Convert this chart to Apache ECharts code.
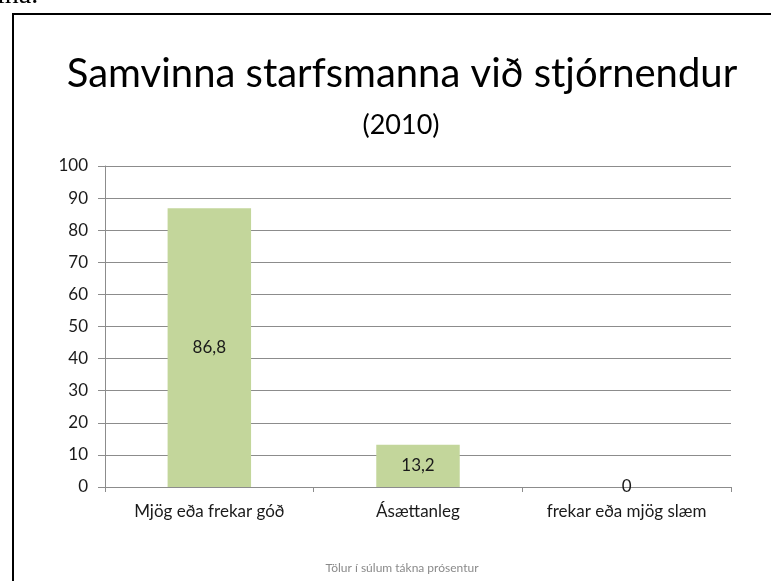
<!DOCTYPE html>
<html>
<head>
<meta charset="utf-8">
<script src="https://cdn.jsdelivr.net/npm/echarts@6/dist/echarts.min.js"></script>
<style>
  html, body { margin: 0; padding: 0; background: #fff; }
  #chart { width: 771px; height: 581px; }
</style>
</head>
<body>
<div id="chart"></div>
<script>
const TITLE = "Samvinna starfsmanna við stjórnendur";
const SUBTITLE = "(2010)";
const FOOTNOTE = "Tölur í súlum tákna prósentur";
const categories = ["Mjög eða frekar góð", "Ásættanleg", "frekar eða mjög slæm"];
const values = [86.8, 13.2, 0];
const yTicks = { min: 0, max: 100, interval: 10 };

const BAR = "#c3d69b";
const GRID = "#8c8c8c";
const TEXT = "#1a1a1a";
const FONT = "Lato, 'Open Sans', sans-serif";

const chart = echarts.init(document.getElementById("chart"), null, { renderer: "canvas" });

chart.setOption({
  animation: false,
  backgroundColor: "#fff",
  title: [
    {
      text: TITLE,
      left: 397, top: 49, textAlign: "center",
      textStyle: { fontFamily: FONT, fontSize: 40, fontWeight: "normal", color: "#000" },
    },
    {
      text: SUBTITLE,
      left: 396, top: 107, textAlign: "center",
      textStyle: { fontFamily: FONT, fontSize: 27, fontWeight: "normal", color: "#000" },
    },
    {
      text: FOOTNOTE,
      left: 397, top: 557, textAlign: "center",
      textStyle: { fontFamily: FONT, fontSize: 12, fontWeight: "normal", color: "#8a8a8a" },
    },
  ],
  graphic: [
    { type: "line", shape: { x1: 13, y1: 14, x2: 771, y2: 14 }, style: { stroke: "#000", lineWidth: 2 } },
    { type: "line", shape: { x1: 13, y1: 13, x2: 13, y2: 581 }, style: { stroke: "#000", lineWidth: 2 } },
    {
      type: "text", left: -3, top: -18,
      style: { text: "ina.", font: "28px 'Liberation Serif', serif", fill: "#000" },
    },
  ],
  grid: { left: 105, right: 40, top: 166, bottom: 94 },
  xAxis: {
    type: "category",
    data: categories,
    axisLine: { lineStyle: { color: GRID, width: 1 } },
    axisTick: { show: true, length: 5, lineStyle: { color: GRID } },
    axisLabel: { color: TEXT, fontFamily: FONT, fontSize: 17, margin: 16 },
  },
  yAxis: {
    type: "value",
    min: yTicks.min, max: yTicks.max, interval: yTicks.interval,
    axisLine: { show: true, lineStyle: { color: GRID, width: 1 } },
    axisTick: { show: true, length: 7, lineStyle: { color: GRID } },
    axisLabel: { color: TEXT, fontFamily: FONT, fontSize: 17, margin: 17 },
    splitLine: { show: true, lineStyle: { color: GRID, width: 1 } },
  },
  series: [
    {
      type: "bar",
      data: values,
      barWidth: "40%",
      itemStyle: { color: BAR },
      label: {
        show: true,
        position: "inside",
        color: TEXT,
        fontFamily: FONT,
        fontSize: 17,
        formatter: (p) => String(p.value).replace(".", ","),
      },
    },
  ],
});
</script>
</body>
</html>
